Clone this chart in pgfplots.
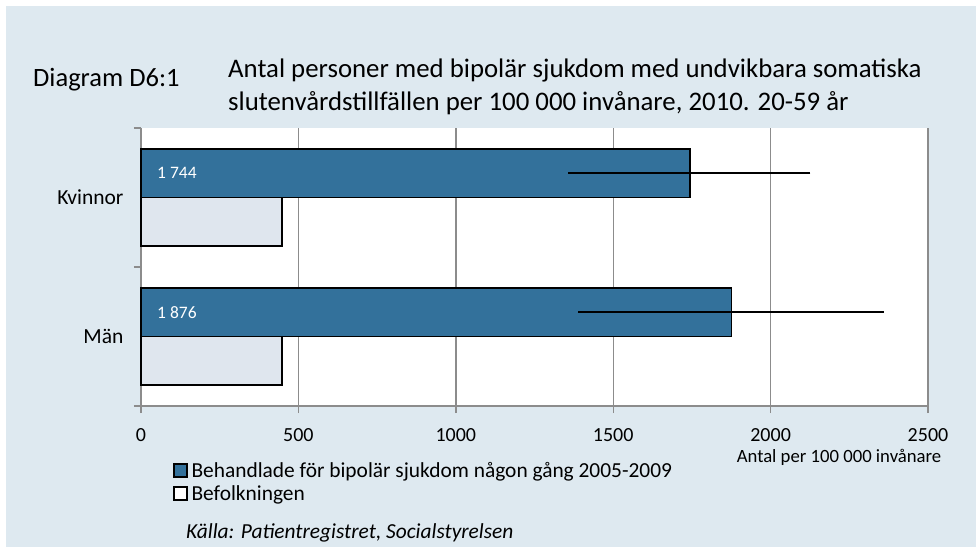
\documentclass[border=0pt]{standalone}
\usepackage{fontspec}
\setmainfont{Carlito}
\usepackage{pgfplots}
\usepackage{pgfplotstable}
\pgfplotsset{compat=1.18}
\definecolor{bgc}{RGB}{222,233,240}
\definecolor{barblue}{RGB}{51,113,155}
\definecolor{bargray}{RGB}{223,230,238}
\definecolor{axisgray}{RGB}{140,140,140}
\pgfplotstableread{
y x ep em
1.175 1744 382 387
0.175 1876 484 488
}\behandlade
\pgfplotstableread{
y x
0.825 448
-0.175 448
}\befolkningen
\begin{document}
\begin{tikzpicture}[x=1pt,y=1pt]
\useasboundingbox (0,0) rectangle (976,547);
\fill[white] (0,0) rectangle (976,547);
\fill[bgc] (6,0) rectangle (976,541);
\node[anchor=west,inner sep=0pt,font=\fontsize{26.5}{31}\selectfont] at (33,467) {Diagram D6:1};
\node[anchor=west,inner sep=0pt,font=\fontsize{26.8}{32}\selectfont] at (228,477) {Antal personer med bipolär sjukdom med undvikbara somatiska};
\node[anchor=west,inner sep=0pt,font=\fontsize{26.8}{32}\selectfont] at (228,444) {slutenvårdstillfällen per 100 000 invånare, 2010. 20-59 år};
\node[anchor=center,inner sep=0pt,font=\fontsize{18.7}{22}\selectfont] at (839,90) {Antal per 100 000 invånare};
\node[anchor=west,inner sep=0pt,font=\fontsize{21.4}{25}\selectfont\itshape] at (186,14) {Källa: Patientregistret, Socialstyrelsen};
\begin{axis}[
  at={(141pt,141pt)}, anchor=south west,
  scale only axis, width=787pt, height=278pt,
  xmin=0, xmax=2500, ymin=-0.5, ymax=1.5,
  axis background/.style={fill=white},
  axis x line*=bottom, axis y line*=left,
  axis line style={draw=axisgray, line width=1.4pt, -},
  xtick={0,500,1000,1500,2000,2500},
  ytick={-0.5,0.5,1.5}, yticklabels={},
  extra y ticks={0,1}, extra y tick labels={Män,Kvinnor},
  extra y tick style={major tick length=0pt, yticklabel style={xshift=-14pt}},
  tick align=outside, major tick length=7pt,
  tick style={draw=axisgray, line width=1.4pt},
  xmajorgrids, grid style={draw=axisgray, line width=1.4pt},
  xticklabel style={font=\fontsize{20}{24}\selectfont, yshift=-12pt},
  yticklabel style={font=\fontsize{21.5}{25}\selectfont},
  /pgf/number format/assume math mode=true,
  /pgf/number format/1000 sep={},
  xbar, bar shift=0pt, bar width=0.35,
  legend style={draw=none, fill=none, at={(0.041,-0.195)}, anchor=north west,
    font=\fontsize{21.4}{25}\selectfont, row sep=3pt, inner sep=0pt,
    nodes={inner sep=1.7pt},
    /tikz/every odd column/.append style={column sep=2pt}},
  legend cell align=left,
  clip=false,
]
\addplot[fill=barblue, draw=black, line width=1.6pt,
  legend image code/.code={\draw[fill=barblue,draw=black,line width=1.4pt] (0pt,-6.5pt) rectangle (13pt,6.5pt);},
  error bars/.cd, x dir=both, x explicit, error mark=none,
  error bar style={black, line width=1.8pt}]
  table[x=x, y=y, x error plus=ep, x error minus=em] {\behandlade};
\addlegendentry{Behandlade för bipolär sjukdom någon gång 2005-2009}
\addplot[fill=bargray, draw=black, line width=1.6pt,
  legend image code/.code={\draw[fill=white,draw=black,line width=1.4pt] (0pt,-6.5pt) rectangle (13pt,6.5pt);}]
  table[x=x, y=y] {\befolkningen};
\addlegendentry{Befolkningen}
\node[anchor=west, text=white, inner sep=0pt, font=\fontsize{17.5}{20}\selectfont] at (axis cs:0,1.175) [xshift=16pt] {1 744};
\node[anchor=west, text=white, inner sep=0pt, font=\fontsize{17.5}{20}\selectfont] at (axis cs:0,0.175) [xshift=16pt] {1 876};
\end{axis}
\end{tikzpicture}
\end{document}
